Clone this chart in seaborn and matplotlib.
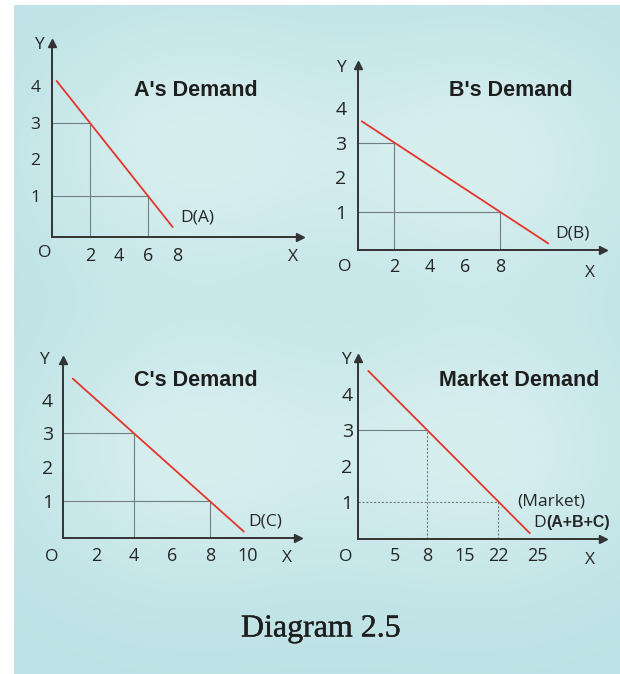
import numpy as np
import pandas as pd
import matplotlib
matplotlib.use("Agg")
import matplotlib.pyplot as plt
import matplotlib.patheffects as pe
import seaborn as sns

# ---------------- data ----------------
# A's demand
a_line_q = [-0.3, 7.7]
a_line_p = [4.15, 0.15]
a_guide_q = [2, 6]
a_guide_p = [3, 1]
a_xticks = [2, 4, 6, 8]
a_yticks = [1, 2, 3, 4]

# B's demand
b_line_q = [0.15, 10.75]
b_line_p = [3.62, 0.08]
b_guide_q = [2, 8]
b_guide_p = [3, 1]
b_xticks = [2, 4, 6, 8]
b_yticks = [1, 2, 3, 4]

# C's demand
c_line_q = [0.75, 9.8]
c_line_p = [4.62, 0.1]
c_guide_q = [4, 8]
c_guide_p = [3, 1]
c_xticks = [2, 4, 6, 8, 10]
c_yticks = [1, 2, 3, 4]

# Market demand
m_line_q = [1.36, 24.4]
m_line_p = [4.65, 0.12]
m_guide_q = [8, 22]
m_guide_p = [3, 1]
m_xticks = [5, 8, 15, 22, 25]
m_yticks = [1, 2, 3, 4]

titles = ["A's Demand", "B's Demand", "C's Demand", "Market Demand"]
curve_labels = ["D(A)", "D(B)", "D(C)"]
caption = "Diagram 2.5"

# ---------------- style ----------------
sns.set_theme(style="white")
plt.rcParams["font.family"] = ["Open Sans", "DejaVu Sans"]

W, H = 620, 674
fig = plt.figure(figsize=(W / 100, H / 100), dpi=100)
fig.patch.set_facecolor("white")

# background with soft glow
bg = fig.add_axes([0, 0, 1, 1], zorder=-10)
yy, xx = np.mgrid[0:H, 0:W]
glow = np.zeros((H, W))
for cx, cy in [(190, 150), (480, 160), (190, 450), (480, 450)]:
    glow += np.exp(-(((xx - cx) ** 2) / (2 * 110 ** 2) + ((yy - cy) ** 2) / (2 * 90 ** 2)))
glow = np.clip(glow, 0, 1)[..., None]
edge = np.array([0.740, 0.888, 0.900])
center = np.array([0.845, 0.935, 0.937])
img = edge * (1 - glow) + center * glow
img[:, :14] = 1.0
img[:5, :] = 1.0
bg.imshow(img, extent=[0, W, H, 0], aspect="auto", interpolation="bilinear")
bg.set_xlim(0, W)
bg.set_ylim(H, 0)
bg.axis("off")

RED = "#e5352b"
AX = "#333333"
GUIDE = "#737e80"
TXT = "#262626"


def fx(x):
    return x / W


def fy(y):
    return 1 - y / H


def panel(x0, x1, ytop, ybot):
    ax = fig.add_axes([x0 / W, 1 - ybot / H, (x1 - x0) / W, (ybot - ytop) / H])
    ax.set_facecolor("none")
    return ax


def style_axes(ax, xlim, ylim, xticks, yticks, xpad, ypad, xsize, ysize):
    ax.set_xlim(*xlim)
    ax.set_ylim(*ylim)
    for s in ["top", "right"]:
        ax.spines[s].set_visible(False)
    for s in ["left", "bottom"]:
        ax.spines[s].set_color(AX)
        ax.spines[s].set_linewidth(1.4)
    ax.set_xticks(xticks)
    ax.set_xticklabels([str(t) for t in xticks])
    ax.set_yticks(yticks)
    ax.set_yticklabels([str(t) for t in yticks])
    ax.tick_params(axis="x", length=0, pad=xpad, labelsize=xsize, labelcolor=TXT)
    ax.tick_params(axis="y", length=0, pad=ypad, labelsize=ysize, labelcolor=TXT)
    ax.set_xlabel("")
    ax.set_ylabel("")
    ax.grid(False)
    # arrow heads
    ax.plot(1, 0, ">", color=AX, markersize=6, transform=ax.transAxes, clip_on=False)
    ax.plot(0, 1, "^", color=AX, markersize=6, transform=ax.transAxes, clip_on=False)


def draw(ax, lq, lp, gq, gp, xmin, ymin, dashed=False):
    df = pd.DataFrame({"q": lq, "p": lp})
    sns.lineplot(data=df, x="q", y="p", ax=ax, color=RED, linewidth=1.3,
                 sort=False, estimator=None, zorder=3)
    for i, (q, p) in enumerate(zip(gq, gp)):
        hls = "-" if (not dashed or i == 0) else (0, (2, 1.5))
        vls = "-" if not dashed else (0, (2, 1.5))
        ax.plot([xmin, q], [p, p], color=GUIDE, lw=0.8, ls=hls, zorder=2)
        ax.plot([q, q], [ymin, p], color=GUIDE, lw=0.8, ls=vls, zorder=2)


# ---- Panel A ----
axA = panel(52, 300, 43, 237)
A_x = (-0.62, 16.48)
A_y = (-0.123, 5.19)
draw(axA, a_line_q, a_line_p, a_guide_q, a_guide_p, A_x[0], A_y[0])
style_axes(axA, A_x, A_y, a_xticks, a_yticks, 7.5, 8.5, 13, 12.5)

# ---- Panel B ----
axB = panel(357.7, 603, 65, 250)
B_x = (-0.08, 13.86)
B_y = (-0.11, 5.25)
draw(axB, b_line_q, b_line_p, b_guide_q, b_guide_p, B_x[0], B_y[0])
style_axes(axB, B_x, B_y, b_xticks, b_yticks, 5.5, 8, 13, 14)

# ---- Panel C ----
axC = panel(63.3, 298, 360, 538.3)
C_x = (0.25, 12.67)
C_y = (-0.10, 5.17)
draw(axC, c_line_q, c_line_p, c_guide_q, c_guide_p, C_x[0], C_y[0])
style_axes(axC, C_x, C_y, c_xticks, c_yticks, 6, 7.5, 13, 14)

# ---- Panel D (market; non-uniform quantity axis as in the original) ----
axD = panel(358.3, 603, 358, 539.3)
knots_q = [0, 5, 8, 15, 22, 25, 30]
knots_v = [0, 36.7, 68.4, 106.7, 140, 179.4, 244.7]
D_x = (0, 30)
D_y = (-0.05, 5.01)
draw(axD, m_line_q, m_line_p, m_guide_q, m_guide_p, D_x[0], D_y[0], dashed=True)
axD.set_xscale("function", functions=(lambda x: np.interp(x, knots_q, knots_v),
                                      lambda v: np.interp(v, knots_v, knots_q)))
style_axes(axD, D_x, D_y, m_xticks, m_yticks, 5.5, 4, 13, 14)

# ---- axis letters ----
lab = dict(color=TXT, fontsize=12.5, ha="center", va="center")
for (ox, oy), (xx_, xy_), (yx_, yy_) in [
    ((45, 253), (293, 257), (39, 45)),
    ((345, 267), (590, 273), (341, 68)),
    ((52, 556.7), (287, 558), (44, 360)),
    ((346, 556.7), (590, 560), (346, 360)),
]:
    fig.text(fx(ox), fy(oy), "O", **lab)
    fig.text(fx(xx_), fy(xy_), "X", **lab)
    fig.text(fx(yx_), fy(yy_), "Y", **lab)

# ---- titles ----
tkw = dict(family=["Liberation Sans", "DejaVu Sans"], fontweight="bold",
           fontsize=15.5, color="#1e1e1e", ha="center", va="center")
for t, (tx, ty) in zip(titles, [(196, 90), (511, 91), (196, 380), (519, 380)]):
    fig.text(fx(tx), fy(ty), t, **tkw)

# ---- curve labels ----
for t, (tx, ty) in zip(curve_labels, [(180, 218), (555, 233), (248, 522)]):
    fig.text(fx(tx), fy(ty), t, color=TXT, fontsize=12.5, ha="left", va="center")
fig.text(fx(517), fy(501), "(Market)", color=TXT, fontsize=12.5, ha="left", va="center")
fig.text(fx(533), fy(523), "D", color=TXT, fontsize=12.5, ha="left", va="center")
fig.text(fx(546), fy(523), "(A+B+C)", color=TXT, fontsize=11.5, ha="left", va="center",
         family=["Liberation Sans", "DejaVu Sans"], fontweight="bold")

# ---- caption ----
fig.text(fx(321), fy(629), caption, family=["Liberation Serif", "DejaVu Serif"],
         fontsize=23, color="#1e1e1e", ha="center", va="center",
         path_effects=[pe.withStroke(linewidth=0.3, foreground="#1e1e1e")])

fig.savefig("out.png", dpi=100, facecolor="white")
